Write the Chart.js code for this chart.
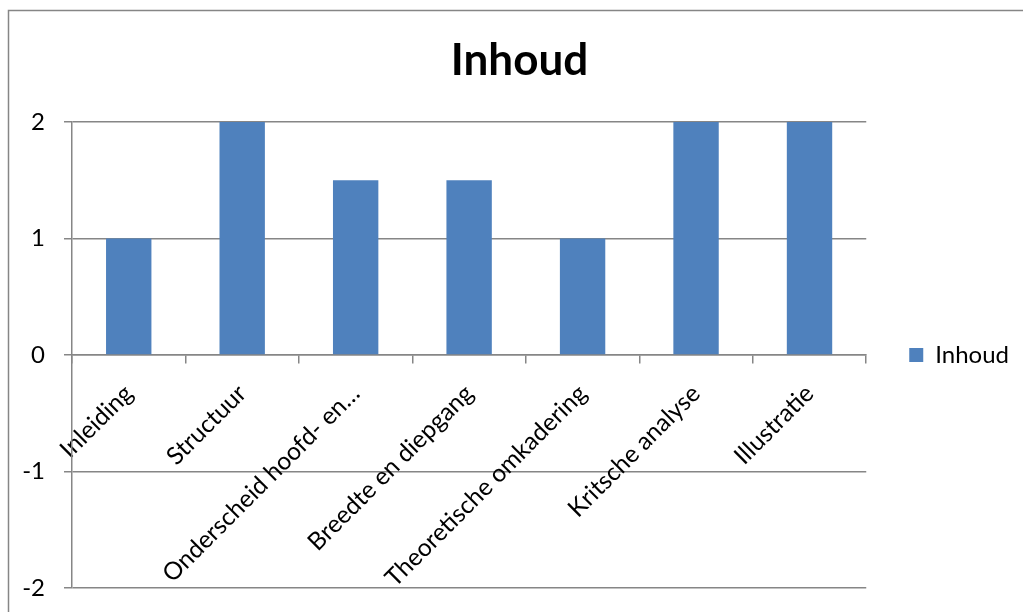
<!DOCTYPE html>
<html>
<head>
<meta charset="utf-8">
<title>Inhoud</title>
<script src="https://cdn.jsdelivr.net/npm/chart.js@4/dist/chart.umd.min.js"></script>
<style>
  html, body { margin: 0; padding: 0; background: #ffffff; overflow: hidden; }
  #wrap { position: relative; width: 1023px; height: 612px; }
  canvas { display: block; }
</style>
</head>
<body>
<div id="wrap"><canvas id="chart" width="1023" height="612"></canvas></div>
<script>
// Scores per onderdeel
const categories = [
  "Inleiding",
  "Structuur",
  "Onderscheid hoofd- en…",
  "Breedte en diepgang",
  "Theoretische omkadering",
  "Kritsche analyse",
  "Illustratie"
];
const inhoudValues = [1, 2, 1.5, 1.5, 1, 2, 2];
const yTicks = [-2, -1, 0, 1, 2];

const seriesName = "Inhoud";
const chartTitle = "Inhoud";

const FONT = "Lato, 'Open Sans', sans-serif";
const GRID = "#868686";
const BAR = "#4F81BD";

// Outer frame of the chart object
const framePlugin = {
  id: "frame",
  beforeDraw(chart) {
    const ctx = chart.ctx;
    ctx.save();
    ctx.fillStyle = "#ffffff";
    ctx.fillRect(0, 0, chart.width, chart.height);
    ctx.strokeStyle = GRID;
    ctx.lineWidth = 1.5;
    ctx.strokeRect(8.5, 10.5, chart.width + 40, chart.height + 40);
    ctx.restore();
  }
};

new Chart(document.getElementById("chart"), {
  type: "bar",
  data: {
    labels: categories,
    datasets: [{
      label: seriesName,
      data: inhoudValues,
      backgroundColor: BAR,
      borderWidth: 0,
      barPercentage: 0.4,
      categoryPercentage: 1.0
    }]
  },
  options: {
    responsive: false,
    animation: false,
    devicePixelRatio: 1,
    layout: { padding: { left: 20, right: 4, top: 0, bottom: 24 } },
    plugins: {
      title: {
        display: true,
        text: chartTitle,
        color: "#000000",
        font: { family: FONT, size: 44, weight: "bold", lineHeight: 1.2 },
        padding: { top: 34, bottom: 35.2 }
      },
      legend: {
        position: "right",
        fullSize: false,
        labels: {
          boxWidth: 14,
          boxHeight: 14,
          padding: 43,
          color: "#000000",
          font: { family: FONT, size: 24 }
        }
      },
      tooltip: { enabled: false }
    },
    scales: {
      x: {
        type: "category",
        position: { y: 0 },
        offset: true,
        grid: {
          offset: true,
          drawOnChartArea: false,
          drawTicks: true,
          tickLength: 8,
          color: GRID,
          lineWidth: 1.5
        },
        border: { display: true, color: GRID, width: 1.5 },
        ticks: {
          autoSkip: false,
          minRotation: 45,
          maxRotation: 45,
          padding: 16,
          labelOffset: 0,
          color: "#000000",
          font: { family: FONT, size: 24.5 }
        }
      },
      y: {
        min: yTicks[0],
        max: yTicks[yTicks.length - 1],
        afterFit(scale) { scale.width = 52; },
        afterBuildTicks(scale) { scale.ticks = yTicks.map(v => ({ value: v })); },
        grid: {
          color: GRID,
          lineWidth: 1.5,
          drawTicks: true,
          tickLength: 8
        },
        border: { display: true, color: GRID, width: 1.5 },
        ticks: {
          padding: 19,
          color: "#000000",
          font: { family: FONT, size: 24, lineHeight: 0.3 }
        }
      }
    }
  },
  plugins: [framePlugin]
});
</script>
</body>
</html>
